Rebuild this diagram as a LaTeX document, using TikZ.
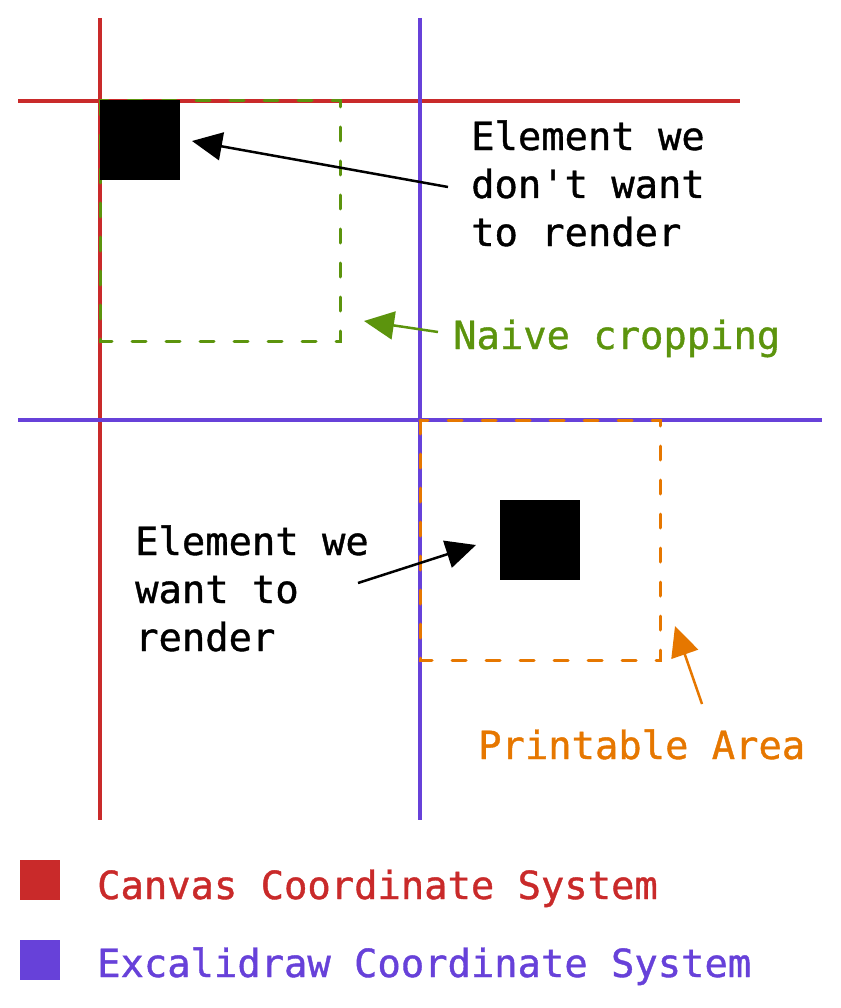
\documentclass[tikz,border=0pt]{standalone}
\usepackage{fontspec}
\setmonofont{DejaVu Sans Mono}[FakeBold=1]
\usetikzlibrary{arrows.meta}
\definecolor{canvasred}{HTML}{C92A2A}
\definecolor{excaviolet}{HTML}{6741D9}
\definecolor{naivegreen}{HTML}{5C940D}
\definecolor{printorange}{HTML}{E67700}

\begin{document}
\begin{tikzpicture}[x=1pt,y=-1pt,
    axisline/.style={line width=4pt},
    cropbox/.style={line width=3pt,line cap=round,dash pattern=on 14pt off 20pt},
    elem/.style={fill=black,minimum size=80pt,inner sep=0pt},
    keybox/.style={minimum size=40pt,inner sep=0pt},
    pointer/.style={line width=2.5pt,-{Triangle[length=30pt,width=28pt]}},
    lbl/.style={font=\ttfamily\fontsize{38.8}{48}\selectfont,inner sep=0pt,align=left}]
    \useasboundingbox (0,0) rectangle (840,1008);

    % coordinate systems
    \draw[axisline,canvasred] (100,18) -- (100,820);
    \draw[axisline,canvasred] (18,101) -- (740,101);
    \draw[axisline,excaviolet] (420,18) -- (420,820);
    \draw[axisline,excaviolet] (18,420) -- (822,420);

    % crop areas
    \draw[cropbox,naivegreen] (100,101) rectangle (340,341);
    \draw[cropbox,printorange] (420,420) rectangle (660,660);

    % elements
    \node[elem] (hidden) at (140,140) {};
    \node[elem] (shown) at (540,540) {};

    % labels (base = last line)
    \node[lbl,anchor=base west] (hiddenlbl) at (471,246) {Element we\\don't want\\to render};
    \node[lbl,anchor=base west,text=naivegreen] (naivelbl) at (453,349) {Naive cropping};
    \node[lbl,anchor=base west] (shownlbl) at (135,651) {Element we\\want to\\render};
    \node[lbl,anchor=base west,text=printorange] (printlbl) at (478,759) {Printable Area};

    % pointers
    \coordinate (hiddentail) at (448,187);
    \coordinate (hiddentip) at (192,141);
    \coordinate (naivetail) at (438,332);
    \coordinate (naivetip) at (364,321);
    \coordinate (showntail) at (358,583);
    \coordinate (showntip) at (476,545);
    \coordinate (printtail) at (702,704);
    \coordinate (printtip) at (675,626);
    \draw[pointer] (hiddentail) -- (hiddentip);
    \draw[pointer,naivegreen] (naivetail) -- (naivetip);
    \draw[pointer] (showntail) -- (showntip);
    \draw[pointer,printorange] (printtail) -- (printtip);

    % legend
    \node[keybox,fill=canvasred] (canvaskey) at (40,880) {};
    \node[keybox,fill=excaviolet] (excakey) at (40,960) {};
    \node[lbl,anchor=base west,text=canvasred] (canvaslbl) at (97,899) {Canvas Coordinate System};
    \node[lbl,anchor=base west,text=excaviolet] (excalbl) at (97,977) {Excalidraw Coordinate System};
\end{tikzpicture}
\end{document}
